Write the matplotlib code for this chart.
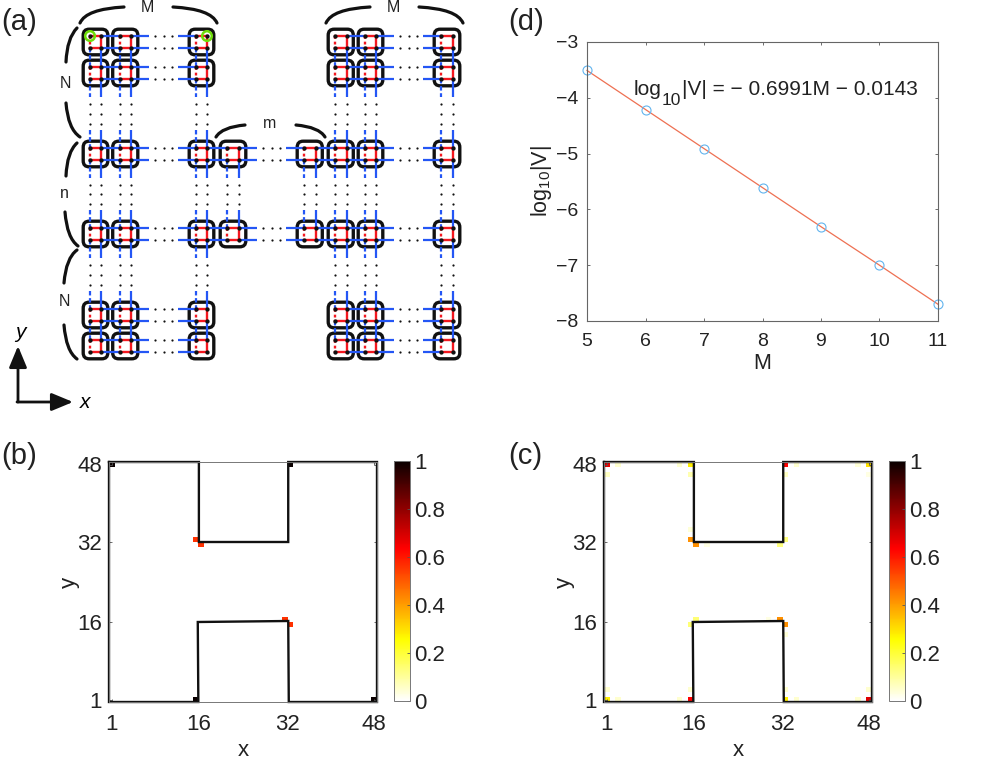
import numpy as np
import matplotlib
matplotlib.use("Agg")
import matplotlib.pyplot as plt
from matplotlib.patches import FancyBboxPatch, PathPatch, Circle
from matplotlib.path import Path

plt.rcParams['font.family'] = ['Liberation Sans', 'DejaVu Sans']
plt.rcParams['mathtext.default'] = 'regular'

W, H = 981, 763

# panel (d)
m_values = [5, 6, 7, 8, 9, 10, 11]
log_v = [-3.51, -4.21, -4.91, -5.61, -6.31, -7.00, -7.70]
fit_line = [-3.51, -4.21, -4.91, -5.61, -6.31, -7.00, -7.70]

# panels (b), (c): nonzero sites as x, y, value
site_x_b = [1, 33, 16, 48, 16, 17, 32, 33]
site_y_b = [48, 48, 1, 1, 33, 32, 17, 16]
site_v_b = [1.0, 1.0, 1.0, 1.0, 0.56, 0.56, 0.56, 0.56]

site_x_c = [1, 3, 1, 16, 14, 16, 33, 35, 33, 48, 46, 48,
            16, 17, 33, 32, 16, 19,
            17, 16, 32, 33, 30, 33,
            1, 1, 3, 16, 14, 16, 33, 35, 33, 48, 46, 48]
site_y_c = [48, 48, 46, 48, 48, 46, 48, 48, 46, 48, 48, 46,
            33, 32, 33, 32, 35, 32,
            17, 16, 17, 16, 17, 14,
            1, 3, 1, 1, 1, 3, 1, 1, 3, 1, 1, 3]
site_v_c = [0.66, 0.05, 0.06, 0.28, 0.05, 0.08, 0.63, 0.05, 0.06, 0.30, 0.04, 0.03,
            0.42, 0.42, 0.13, 0.13, 0.04, 0.03,
            0.14, 0.14, 0.42, 0.42, 0.03, 0.04,
            0.28, 0.05, 0.05, 0.63, 0.05, 0.05, 0.28, 0.05, 0.05, 0.68, 0.05, 0.05]

outline_x = [0.5, 16.6, 16.6, 32.6, 32.6, 48.5, 48.5, 32.7, 32.6, 16.4, 16.5, 0.5, 0.5]
outline_y = [48.5, 48.5, 32.5, 32.5, 48.5, 48.5, 0.5, 0.5, 16.7, 16.5, 0.5, 0.5, 48.5]

grid_ticks = [1, 16.5, 32.5, 48]
grid_labels = ['1', '16', '32', '48']
cbar_ticks = [0, 0.2, 0.4, 0.6, 0.8, 1]
cbar_labels = ['0', '0.2', '0.4', '0.6', '0.8', '1']

# panel (a) lattice, in pixels of the figure
cols = [(90, 101), (119.5, 131), (196, 207), (227, 239), (304, 315.5),
        (335, 346.5), (365, 376), (441, 453)]
rows = [(36, 48), (67, 79), (148, 160), (228, 240), (309, 321), (340, 352)]
left_block = [0, 1, 2]
right_block = [5, 6, 7]
middle_block = [3, 4]
middle_rows = [2, 3]

BLUE = '#2456f5'
RED = '#f4171f'
GREEN = '#6fdc0a'


def px_axes(left, top, right, bottom):
    return fig.add_axes([left / W, 1 - bottom / H, (right - left) / W, (bottom - top) / H])


def grid_panel(rect, xs, ys, vs):
    ax = px_axes(*rect)
    field = np.zeros((48, 48))
    field[np.array(ys) - 1, np.array(xs) - 1] = vs
    im = ax.imshow(field, cmap='hot_r', vmin=0, vmax=1, origin='lower', aspect='auto',
                   extent=(0.5, 48.5, 0.5, 48.5), interpolation='nearest')
    ax.plot(outline_x, outline_y, color='#111111', lw=1.7, solid_joinstyle='miter', clip_on=False)
    ax.set_xticks(grid_ticks)
    ax.set_xticklabels(grid_labels)
    ax.set_yticks(grid_ticks)
    ax.set_yticklabels(grid_labels)
    ax.tick_params(direction='in', length=2, width=0.6, color='#555555', top=True, right=True,
                   labelsize=16, labelcolor='#222222')
    ax.tick_params(axis='x', pad=9)
    ax.tick_params(axis='y', pad=5)
    ax.set_xlabel('x', fontsize=16, labelpad=3, color='#222222')
    ax.set_ylabel('y', fontsize=16, labelpad=-2, color='#222222')
    for s in ax.spines.values():
        s.set_linewidth(0.7)
        s.set_color('#777777')
    return ax, im


def colorbar_panel(rect, im):
    cax = px_axes(*rect)
    cb = fig.colorbar(im, cax=cax)
    cb.set_ticks(cbar_ticks)
    cb.set_ticklabels(cbar_labels)
    cb.ax.tick_params(direction='in', length=2, width=0.6, color='#555555', labelsize=16,
                      labelcolor='#222222', pad=3)
    cb.outline.set_linewidth(0.7)
    cb.outline.set_edgecolor('#777777')


def blue(xs, ys, **kw):
    ov.plot(xs, ys, color=BLUE, lw=1.6, solid_capstyle='butt', zorder=2, **kw)


def dots(xs, ys):
    ov.plot(xs, ys, ls='none', marker='o', ms=1.6, color='#111111', mew=0, zorder=2)


def hgap(a, b, y):
    a1 = cols[a][1]
    b0 = cols[b][0]
    if b0 - a1 < 40:
        blue([a1, b0], [y, y])
    else:
        blue([a1, a1 + 18], [y, y])
        blue([b0 - 18, b0], [y, y])
        dots(np.linspace(a1 + 24, b0 - 24, 3), [y] * 3)


def vgap(c, r):
    y1 = rows[r][1]
    y0 = rows[r + 1][0]
    x0, x1 = cols[c]
    if y0 - y1 < 40:
        ov.plot([x0, x0], [y1, y0], color=BLUE, lw=1.6, ls=(0, (2, 1.2)), zorder=2)
        blue([x1, x1], [y1, y0])
    else:
        for part in ([y1, y1 + 18], [y0 - 18, y0]):
            ov.plot([x0, x0], part, color=BLUE, lw=1.6, ls=(0, (2, 1.2)), zorder=2)
            blue([x1, x1], part)
        dy = np.linspace(y1 + 24.5, y0 - 24.5, 3)
        dots([x0] * 3, dy)
        dots([x1] * 3, dy)


def cell(c, r):
    x0, x1 = cols[c]
    y0, y1 = rows[r]
    m = 6.8
    ov.add_patch(FancyBboxPatch((x0 - m + 5, y0 - m + 5), x1 - x0 + 2 * m - 10, y1 - y0 + 2 * m - 10,
                                boxstyle='round,pad=5,rounding_size=6', fc='none', ec='#111111',
                                lw=2.4, zorder=1))
    ov.plot([x0, x1], [y0, y0], color=RED, lw=1.7, zorder=3)
    ov.plot([x0, x1], [y1, y1], color=RED, lw=1.7, zorder=3)
    ov.plot([x1, x1], [y0, y1], color=RED, lw=1.7, zorder=3)
    ov.plot([x0, x0], [y0, y1], color=RED, lw=1.7, ls=(0, (1.2, 1.2)), zorder=3)
    ov.plot([x0, x1, x0, x1], [y0, y0, y1, y1], ls='none', marker='o', ms=3.1, color='#111111',
            mew=0, zorder=4)


def bracket(p0, ctrl, p1):
    ov.add_patch(PathPatch(Path([p0, ctrl, p1], [Path.MOVETO, Path.CURVE3, Path.CURVE3]),
                           fc='none', ec='#111111', lw=2.3, capstyle='round', zorder=2))


fig = plt.figure(figsize=(W / 100, H / 100), dpi=100)

# (b) and (c)
ax_b, im_b = grid_panel((109, 462, 377, 702), site_x_b, site_y_b, site_v_b)
colorbar_panel((394, 461, 410, 701), im_b)
ax_c, im_c = grid_panel((604, 462, 872, 702), site_x_c, site_y_c, site_v_c)
colorbar_panel((889, 461, 905, 701), im_c)

# (d)
ax_d = px_axes(587, 42, 938, 321)
ax_d.plot(m_values, fit_line, color='#ee7052', lw=0.9, clip_on=False)
ax_d.plot(m_values, log_v, ls='none', marker='o', ms=6.5, mfc='none', mec='#62b4ee', mew=0.8,
          clip_on=False)
ax_d.set_xlim(5, 11)
ax_d.set_ylim(-8, -3)
ax_d.set_xticks(m_values)
ax_d.set_yticks([-3, -4, -5, -6, -7, -8])
ax_d.set_yticklabels(['\u22123', '\u22124', '\u22125', '\u22126', '\u22127', '\u22128'])
ax_d.tick_params(direction='in', length=2.5, width=0.6, color='#555555', top=True, right=True,
                 labelsize=14, labelcolor='#222222')
ax_d.tick_params(axis='x', pad=9)
ax_d.tick_params(axis='y', pad=6)
ax_d.set_xlabel('M', fontsize=15.5, labelpad=2, color='#222222')
ax_d.set_ylabel('log$_{10}$|V|', fontsize=15.5, labelpad=2, color='#222222')
for s in ax_d.spines.values():
    s.set_linewidth(0.8)
    s.set_color('#666666')

# the subscript in the equation is bigger than mathtext would make it
eq_y = -3.95
t1 = ax_d.text(5.79, eq_y, 'log', fontsize=15, color='#222222', ha='left', va='baseline')
t2 = ax_d.annotate('10', xy=(1, eq_y), xycoords=(t1, 'data'), xytext=(0.5, -7),
                   textcoords='offset points', fontsize=12.5, color='#222222', va='baseline')
ax_d.annotate('|V| = \u2212 0.6991M \u2212 0.0143', xy=(1, eq_y), xycoords=(t2, 'data'),
              xytext=(0.5, 0), textcoords='offset points', fontsize=15, color='#222222',
              va='baseline')

# (a) and the panel letters, drawn over the whole figure in pixel coordinates
ov = fig.add_axes([0, 0, 1, 1])
ov.set_xlim(0, W)
ov.set_ylim(H, 0)
ov.axis('off')
ov.patch.set_alpha(0)

for block in (left_block, right_block):
    for r in range(len(rows)):
        for c in block:
            cell(c, r)
        for y in rows[r]:
            for a, b in zip(block[:-1], block[1:]):
                hgap(a, b, y)
    for c in block:
        for r in range(len(rows) - 1):
            vgap(c, r)

for c in middle_block:
    for r in middle_rows:
        cell(c, r)
    vgap(c, middle_rows[0])
for r in middle_rows:
    for y in rows[r]:
        hgap(2, 3, y)
        hgap(3, 4, y)
        hgap(4, 5, y)

for x, y in [(90, 36), (207, 36)]:
    ov.add_patch(Circle((x, y), 4.8, fc='none', ec=GREEN, lw=1.8, zorder=5))

bracket((80, 23), (86, 9), (124, 7))
bracket((173, 7), (211, 9), (217, 23))
bracket((326, 23), (332, 9), (370, 7))
bracket((419, 7), (457, 9), (463, 23))
bracket((216, 137), (222, 127), (245, 125))
bracket((296, 125), (319, 127), (325, 137))
bracket((77, 28), (67, 38), (66, 62))
bracket((66, 103), (68, 129), (80, 137))
bracket((77, 143), (67, 152), (66, 176))
bracket((65, 212), (67, 238), (78, 246))
bracket((77, 250), (66, 258), (64, 283))
bracket((64, 325), (66, 351), (77, 359))

small = dict(fontsize=11.5, color='#222222', ha='center', va='center')
ov.text(147, 8, 'M', **small)
ov.text(393, 7, 'M', **small)
ov.text(270, 124, 'm', **small)
ov.text(65, 84, 'N', **small)
ov.text(64, 193, 'n', **small)
ov.text(64, 302, 'N', **small)

arrow = dict(arrowstyle='-|>,head_length=0.65,head_width=0.27', lw=2, color='#111111',
             mutation_scale=20, shrinkA=0, shrinkB=0)
ov.annotate('', xy=(18, 346), xytext=(18, 402), arrowprops=arrow)
ov.annotate('', xy=(73, 402), xytext=(17, 402), arrowprops=arrow)
ov.text(20, 333, 'y', style='italic', fontsize=15, ha='center', va='center')
ov.text(85, 402, 'x', style='italic', fontsize=15, ha='center', va='center')

letter = dict(fontsize=21, color='#222222', ha='left', va='center')
ov.text(1, 22, '(a)', **letter)
ov.text(1, 456, '(b)', **letter)
ov.text(508, 456, '(c)', **letter)
ov.text(508, 22, '(d)', **letter)

fig.savefig('out.png', dpi=100)
